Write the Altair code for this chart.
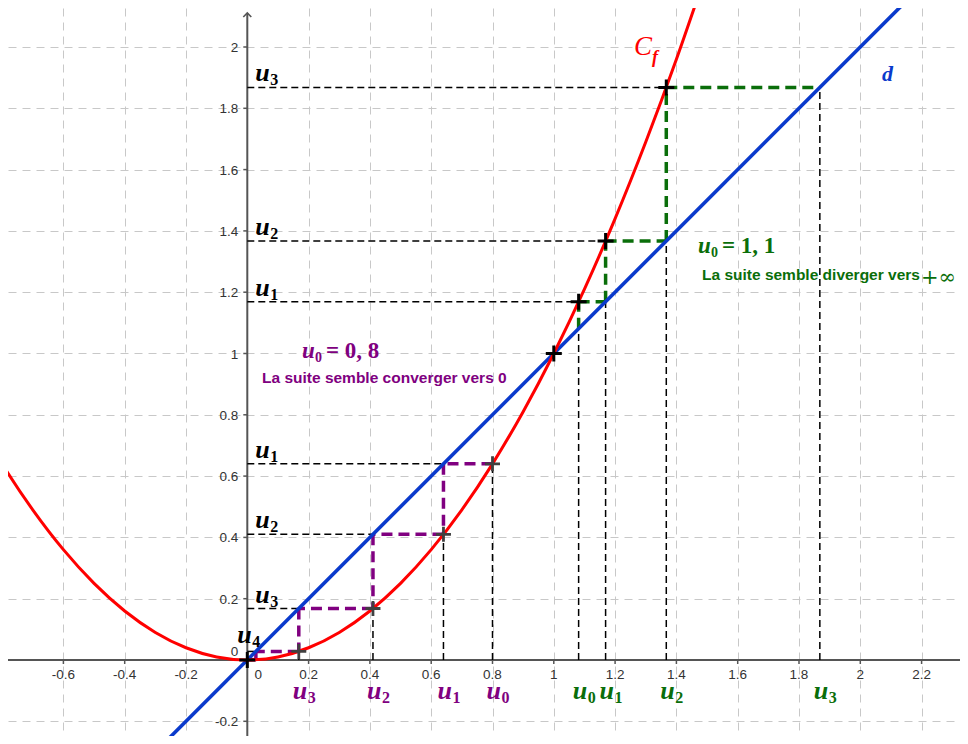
import altair as alt
import pandas as pd

# ---------------- values ----------------
curve_x = [-0.9, -0.8, -0.7, -0.6, -0.5, -0.4, -0.3, -0.2, -0.1, 0.0,
           0.1, 0.2, 0.3, 0.4, 0.5, 0.6, 0.7, 0.8, 0.9, 1.0,
           1.1, 1.2, 1.3, 1.4, 1.5]
curve_y = [0.81, 0.64, 0.49, 0.36, 0.25, 0.16, 0.09, 0.04, 0.01, 0.0,
           0.01, 0.04, 0.09, 0.16, 0.25, 0.36, 0.49, 0.64, 0.81, 1.0,
           1.21, 1.44, 1.69, 1.96, 2.25]
line_x = [-0.3, 2.4]
line_y = [-0.3, 2.4]
seq_purple = [0.8, 0.64, 0.41, 0.168, 0.028, 0.001]
seq_green = [1.081, 1.169, 1.367, 1.868]
fixed_x = [0.0, 1.0]
fixed_y = [0.0, 1.0]
xtick_values = [-0.6, -0.4, -0.2, 0.2, 0.4, 0.6, 0.8, 1.0, 1.2, 1.4, 1.6, 1.8, 2.0, 2.2]
xtick_labels = ["-0.6", "-0.4", "-0.2", "0.2", "0.4", "0.6", "0.8", "1", "1.2",
                "1.4", "1.6", "1.8", "2", "2.2"]
ytick_values = [-0.2, 0.2, 0.4, 0.6, 0.8, 1.0, 1.2, 1.4, 1.6, 1.8, 2.0]
ytick_labels = ["-0.2", "0.2", "0.4", "0.6", "0.8", "1", "1.2", "1.4", "1.6", "1.8", "2"]

# ---------------- layout ----------------
W, H = 952, 728
PPU = 306.5                      # pixels per unit (both axes)
xmin = -239.3 / PPU
xmax = xmin + W / PPU
ymax = 652.0 / PPU
ymin = ymax - H / PPU
y_arrow = 647.0 / PPU

PURPLE = "#800080"
GREEN = "#0a6e0a"
RED = "#ff0000"
BLUE = "#0a3acc"
AXIS = "#555555"
TICKFONT = 13.5

xscale = alt.Scale(domain=[xmin, xmax], nice=False, zero=False)
yscale = alt.Scale(domain=[ymin, ymax], nice=False, zero=False)
grid_common = dict(grid=True, gridDash=[8, 6], gridColor="#c8c8c8", gridWidth=1,
                   labels=False, ticks=False, domain=False, title=None)
xaxis = alt.Axis(values=xtick_values, **grid_common)
yaxis = alt.Axis(values=ytick_values, **grid_common)


def X(f):
    return alt.X(f"{f}:Q", scale=xscale, axis=xaxis)


def Y(f):
    return alt.Y(f"{f}:Q", scale=yscale, axis=yaxis)


series_color = alt.Color("series:N",
                         scale=alt.Scale(domain=["black", "purple", "green"],
                                         range=["#000000", PURPLE, GREEN]),
                         legend=None)

# ---------------- cobweb segments ----------------
def cobweb(seq, name, start_on_line):
    black, colored = [], []
    n = len(seq)
    if start_on_line:
        colored.append(dict(x=seq[0], y=seq[0], x2=seq[0], y2=seq[1], series=name))
    for i in range(n - 1):
        u, v = seq[i], seq[i + 1]
        m = min(u, v)
        black.append(dict(x=u, y=0, x2=u, y2=m, series="black"))
        black.append(dict(x=0, y=v, x2=m, y2=v, series="black"))
        colored.append(dict(x=u, y=v, x2=v, y2=v, series=name))
        if i + 2 < n:
            colored.append(dict(x=v, y=v, x2=v, y2=seq[i + 2], series=name))
    if start_on_line:
        black.append(dict(x=seq[-1], y=0, x2=seq[-1], y2=seq[-1], series="black"))
    return black, colored


bp, cp = cobweb(seq_purple, "purple", False)
bg, cg = cobweb(seq_green, "green", True)
black_df = pd.DataFrame(bp + bg)
col_df = pd.DataFrame(cp + cg)

gray_cross = pd.DataFrame({"x": seq_purple[:4], "y": seq_purple[1:5]})
black_cross = pd.DataFrame({"x": seq_green[:-1] + fixed_x, "y": seq_green[1:] + fixed_y})

curve_df = pd.DataFrame({"x": curve_x, "y": curve_y})
line_df = pd.DataFrame({"x": line_x, "y": line_y})

axes_df = pd.DataFrame([dict(x=xmin, x2=xmax, y=0.0, y2=0.0),
                        dict(x=0.0, x2=0.0, y=ymin, y2=y_arrow)])
xt_df = pd.DataFrame({"x": xtick_values, "y": [0.0] * len(xtick_values), "t": xtick_labels})
yt_df = pd.DataFrame({"x": [0.0] * len(ytick_values), "y": ytick_values, "t": ytick_labels})

# ---------------- u_n labels ----------------
lab = []
for k in (1, 2, 3):
    lab.append(dict(x=8 / PPU, y=seq_green[k] + 6 / PPU, base="u", sub=str(k), series="black"))
    lab.append(dict(x=8 / PPU, y=seq_purple[k] + 6 / PPU, base="u", sub=str(k), series="black"))
lab.append(dict(x=-10 / PPU, y=seq_purple[4] + 8 / PPU, base="u", sub="4", series="black"))
for k in range(4):
    lab.append(dict(x=seq_purple[k] - 6 / PPU, y=-39 / PPU, base="u", sub=str(k), series="purple"))
    lab.append(dict(x=seq_green[k] - 6 / PPU, y=-39 / PPU, base="u", sub=str(k), series="green"))
lab_df = pd.DataFrame(lab)

layers = []

# main axes
layers.append(alt.Chart(axes_df).mark_rule(color=AXIS, strokeWidth=2).encode(
    x=X("x"), x2="x2", y=Y("y"), y2="y2"))
layers.append(alt.Chart(pd.DataFrame({"x": [0.0], "y": [y_arrow]})).mark_point(
    shape="M-1,1L0,0L1,1", size=64, filled=False, color=AXIS, strokeWidth=1.6, opacity=1
).encode(x=X("x"), y=Y("y")))
layers.append(alt.Chart(xt_df).mark_point(
    shape="M0,0L0,1", size=64, filled=False, color=AXIS, strokeWidth=1.5, opacity=1
).encode(x=X("x"), y=Y("y")))
layers.append(alt.Chart(yt_df).mark_point(
    shape="M0,0L-1,0", size=64, filled=False, color=AXIS, strokeWidth=1.5, opacity=1
).encode(x=X("x"), y=Y("y")))
layers.append(alt.Chart(xt_df).mark_text(
    align="center", baseline="alphabetic", dy=19, font="Liberation Sans", fontSize=TICKFONT, color="#333333"
).encode(x=X("x"), y=Y("y"), text="t:N"))
layers.append(alt.Chart(yt_df).mark_text(
    align="right", baseline="alphabetic", dx=-9, dy=5, font="Liberation Sans", fontSize=TICKFONT, color="#333333"
).encode(x=X("x"), y=Y("y"), text="t:N"))
zero_df = pd.DataFrame({"x": [0.0], "y": [0.0], "t": ["0"]})
layers.append(alt.Chart(zero_df).mark_text(
    align="center", baseline="alphabetic", dx=11, dy=19, font="Liberation Sans", fontSize=TICKFONT, color="#333333"
).encode(x=X("x"), y=Y("y"), text="t:N"))
layers.append(alt.Chart(zero_df).mark_text(
    align="right", baseline="alphabetic", dx=-9, dy=-4, font="Liberation Sans", fontSize=TICKFONT, color="#333333"
).encode(x=X("x"), y=Y("y"), text="t:N"))

# cobweb
layers.append(alt.Chart(black_df).mark_rule(color="black", strokeDash=[7, 4], strokeWidth=1.5).encode(
    x=X("x"), x2="x2", y=Y("y"), y2="y2"))
layers.append(alt.Chart(col_df).mark_rule(strokeDash=[11, 6], strokeWidth=3.5).encode(
    x=X("x"), x2="x2", y=Y("y"), y2="y2", color=series_color))

# line d and curve Cf
layers.append(alt.Chart(line_df).mark_line(color=BLUE, strokeWidth=3.6, clip=True).encode(
    x=X("x"), y=Y("y")))
layers.append(alt.Chart(curve_df).mark_line(color=RED, strokeWidth=3, clip=True, interpolate="natural").encode(
    x=X("x"), y=Y("y")))

# crosses
layers.append(alt.Chart(gray_cross).mark_point(
    shape="M-1,0L1,0M0,-1L0,1", size=225, filled=False, strokeWidth=2.8, opacity=1, color="#404040"
).encode(x=X("x"), y=Y("y")))
layers.append(alt.Chart(black_cross).mark_point(
    shape="M-1,0L1,0M0,-1L0,1", size=256, filled=False, strokeWidth=3, opacity=1, color="#000000"
).encode(x=X("x"), y=Y("y")))

# u_n labels
layers.append(alt.Chart(lab_df).mark_text(
    align="left", baseline="alphabetic", font="Liberation Serif", fontStyle="italic",
    fontWeight="bold", fontSize=26
).encode(x=X("x"), y=Y("y"), text="base:N", color=series_color))
layers.append(alt.Chart(lab_df).mark_text(
    align="left", baseline="alphabetic", dx=15, dy=4, font="Liberation Serif",
    fontWeight="bold", fontSize=16
).encode(x=X("x"), y=Y("y"), text="sub:N", color=series_color))


def note(x_px, y_px, text, color, font, size, weight="normal", style="normal"):
    df = pd.DataFrame({"x": [(x_px - 247.3) / PPU], "y": [(660.0 - y_px) / PPU], "t": [text]})
    return alt.Chart(df).mark_text(
        align="left", baseline="alphabetic", font=font, fontSize=size, fontWeight=weight,
        fontStyle=style, color=color
    ).encode(x=X("x"), y=Y("y"), text="t:N")


# curve names
layers.append(note(634, 55, "C", RED, "Liberation Serif", 27, style="italic"))
layers.append(note(652, 63, "f", RED, "Liberation Serif", 18, weight="bold", style="italic"))
layers.append(note(882, 81, "d", BLUE, "Liberation Serif", 22, weight="bold", style="italic"))

# purple notes
layers.append(note(302, 358, "u", PURPLE, "Liberation Serif", 23, weight="bold", style="italic"))
layers.append(note(315, 362, "0", PURPLE, "Liberation Serif", 14, weight="bold"))
layers.append(note(326, 358, "= 0, 8", PURPLE, "Liberation Serif", 23, weight="bold"))
layers.append(note(262, 383, "La suite semble converger vers 0", PURPLE, "Liberation Sans", 15.5, weight="bold"))

# green notes
layers.append(note(698, 253, "u", GREEN, "Liberation Serif", 23, weight="bold", style="italic"))
layers.append(note(711, 257, "0", GREEN, "Liberation Serif", 14, weight="bold"))
layers.append(note(722, 253, "= 1, 1", GREEN, "Liberation Serif", 23, weight="bold"))
layers.append(note(702, 280, "La suite semble diverger vers", GREEN, "Liberation Sans", 15.5, weight="bold"))
layers.append(note(921, 284, "+∞", GREEN, "DejaVu Serif", 21))

chart = alt.layer(*layers).properties(
    width=W, height=H, autosize=alt.AutoSizeParams(type="none"), padding=0,
    background="white"
).configure_view(strokeWidth=0)

chart.save("out.html", embed_options={"renderer": "svg", "actions": False})
